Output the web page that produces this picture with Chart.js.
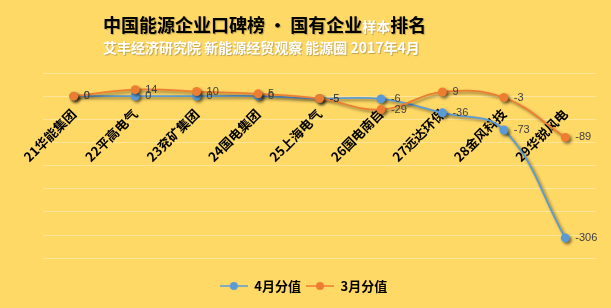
<!DOCTYPE html>
<html>
<head>
<meta charset="utf-8">
<script src="https://cdn.jsdelivr.net/npm/chart.js@4/dist/chart.umd.min.js"></script>
<style>
  html, body { margin: 0; padding: 0; background: #FFD966; }
  #wrap { width: 611px; height: 308px; }
</style>
</head>
<body>
<div id="wrap"><canvas id="rankChart" width="611" height="308"></canvas></div>
<script>
// 企业名称（横轴）
const companies = ['21华能集团', '22平高电气', '23兖矿集团', '24国电集团', '25上海电气',
                   '26国电南自', '27远达环保', '28金风科技', '29华锐风电'];
// 两个月的分值
const aprilScores = [0, 0, 0, 0, -5, -6, -36, -73, -306];
const marchScores = [0, 14, 10, 5, -5, -29, 9, -3, -89];
const seriesNames = ['4月分值', '3月分值'];
const seriesColors = ['#5B9BD5', '#ED7D31'];
// 标题
const titleParts = [
    { text: '中国能源企业口碑榜\u2009·\u2009国有企业', size: 18, color: '#000' },
    { text: '样本', size: 14, color: '#fff' },
    { text: '排名', size: 18, color: '#000' }
];
const subTitle = '艾丰经济研究院 新能源经贸观察 能源圈 2017年4月';

const cjk = '"Noto Sans CJK SC", sans-serif';

// 图例小图标：线 + 圆点
function legendIcon(color) {
    const c = document.createElement('canvas');
    c.width = 28; c.height = 10;
    const g = c.getContext('2d');
    g.strokeStyle = color; g.lineWidth = 1.5;
    g.beginPath(); g.moveTo(0, 5); g.lineTo(28, 5); g.stroke();
    g.fillStyle = color;
    g.beginPath(); g.arc(14, 5, 4, 0, Math.PI * 2); g.fill();
    return c;
}
const icons = seriesColors.map(legendIcon);

// 标题插件
const titlePlugin = {
    id: 'titles',
    afterDraw(chart) {
        const ctx = chart.ctx;
        ctx.save();
        ctx.textBaseline = 'alphabetic';
        ctx.textAlign = 'left';
        ctx.shadowColor = 'rgba(0,0,0,0.25)';
        ctx.shadowOffsetX = 1; ctx.shadowOffsetY = 1; ctx.shadowBlur = 1;
        let x = 103;
        for (const p of titleParts) {
            ctx.font = 'bold ' + p.size + 'px ' + cjk;
            ctx.fillStyle = p.color;
            ctx.fillText(p.text, x, 32);
            x += ctx.measureText(p.text).width;
        }
        ctx.font = 'bold 14px ' + cjk;
        ctx.fillStyle = '#fff';
        ctx.fillText(subTitle, 103, 53);
        ctx.restore();
    }
};

// 阴影 + 数据标签
const markPlugin = {
    id: 'marks',
    beforeDatasetsDraw(chart) {
        const ctx = chart.ctx;
        ctx.save();
        ctx.shadowColor = 'rgba(0,0,0,0.5)';
        ctx.shadowBlur = 3;
        ctx.shadowOffsetX = 2;
        ctx.shadowOffsetY = 2;
    },
    afterDatasetsDraw(chart) {
        const ctx = chart.ctx;
        ctx.restore();
        ctx.save();
        ctx.font = '11px "Liberation Sans", sans-serif';
        ctx.fillStyle = '#404040';
        ctx.textBaseline = 'middle';
        ctx.textAlign = 'left';
        chart.data.datasets.forEach((ds, i) => {
            chart.getDatasetMeta(i).data.forEach((pt, j) => {
                ctx.fillText(String(ds.data[j]), pt.x + 10, pt.y);
            });
        });
        ctx.restore();
    }
};

const ctx = document.getElementById('rankChart').getContext('2d');
new Chart(ctx, {
    type: 'line',
    data: {
        labels: companies,
        datasets: [{
            label: seriesNames[0],
            data: aprilScores,
            borderColor: seriesColors[0],
            backgroundColor: seriesColors[0],
            borderWidth: 1.75,
            pointRadius: 4.5,
            pointBorderWidth: 0,
            tension: 0.4,
            order: 2
        }, {
            label: seriesNames[1],
            data: marchScores,
            borderColor: seriesColors[1],
            backgroundColor: seriesColors[1],
            borderWidth: 1.75,
            pointRadius: 4.5,
            pointBorderWidth: 0,
            tension: 0.4,
            order: 1
        }]
    },
    options: {
        responsive: false,
        animation: false,
        layout: { padding: { top: 73, left: 11, right: 15, bottom: 5.5 } },
        plugins: {
            title: { display: false },
            tooltip: { enabled: false },
            legend: {
                position: 'bottom',
                labels: {
                    usePointStyle: true,
                    pointStyleWidth: 28,
                    padding: 5,
                    color: '#000',
                    font: { family: cjk, size: 13, weight: 'bold' },
                    sort: (a, b) => a.datasetIndex - b.datasetIndex,
                    generateLabels: (chart) =>
                        Chart.defaults.plugins.legend.labels.generateLabels(chart)
                            .map(item => Object.assign(item, { pointStyle: icons[item.datasetIndex] }))
                }
            }
        },
        scales: {
            x: {
                position: { y: 0 },
                offset: true,
                grid: { display: false },
                border: { display: false },
                ticks: {
                    autoSkip: false,
                    minRotation: 45,
                    maxRotation: 45,
                    padding: 2,
                    color: '#000',
                    font: { family: cjk, size: 13, weight: 'bold' }
                }
            },
            y: {
                min: -385,
                max: 50,
                afterFit: (scale) => { scale.width = 32; },
                ticks: { display: false, stepSize: 50 },
                border: { display: false },
                grid: {
                    drawTicks: false,
                    color: (c) => (c.tick && c.tick.value % 50 === 0) ? 'rgba(255,255,255,0.35)' : 'rgba(0,0,0,0)'
                }
            }
        }
    },
    plugins: [titlePlugin, markPlugin]
});
</script>
</body>
</html>
